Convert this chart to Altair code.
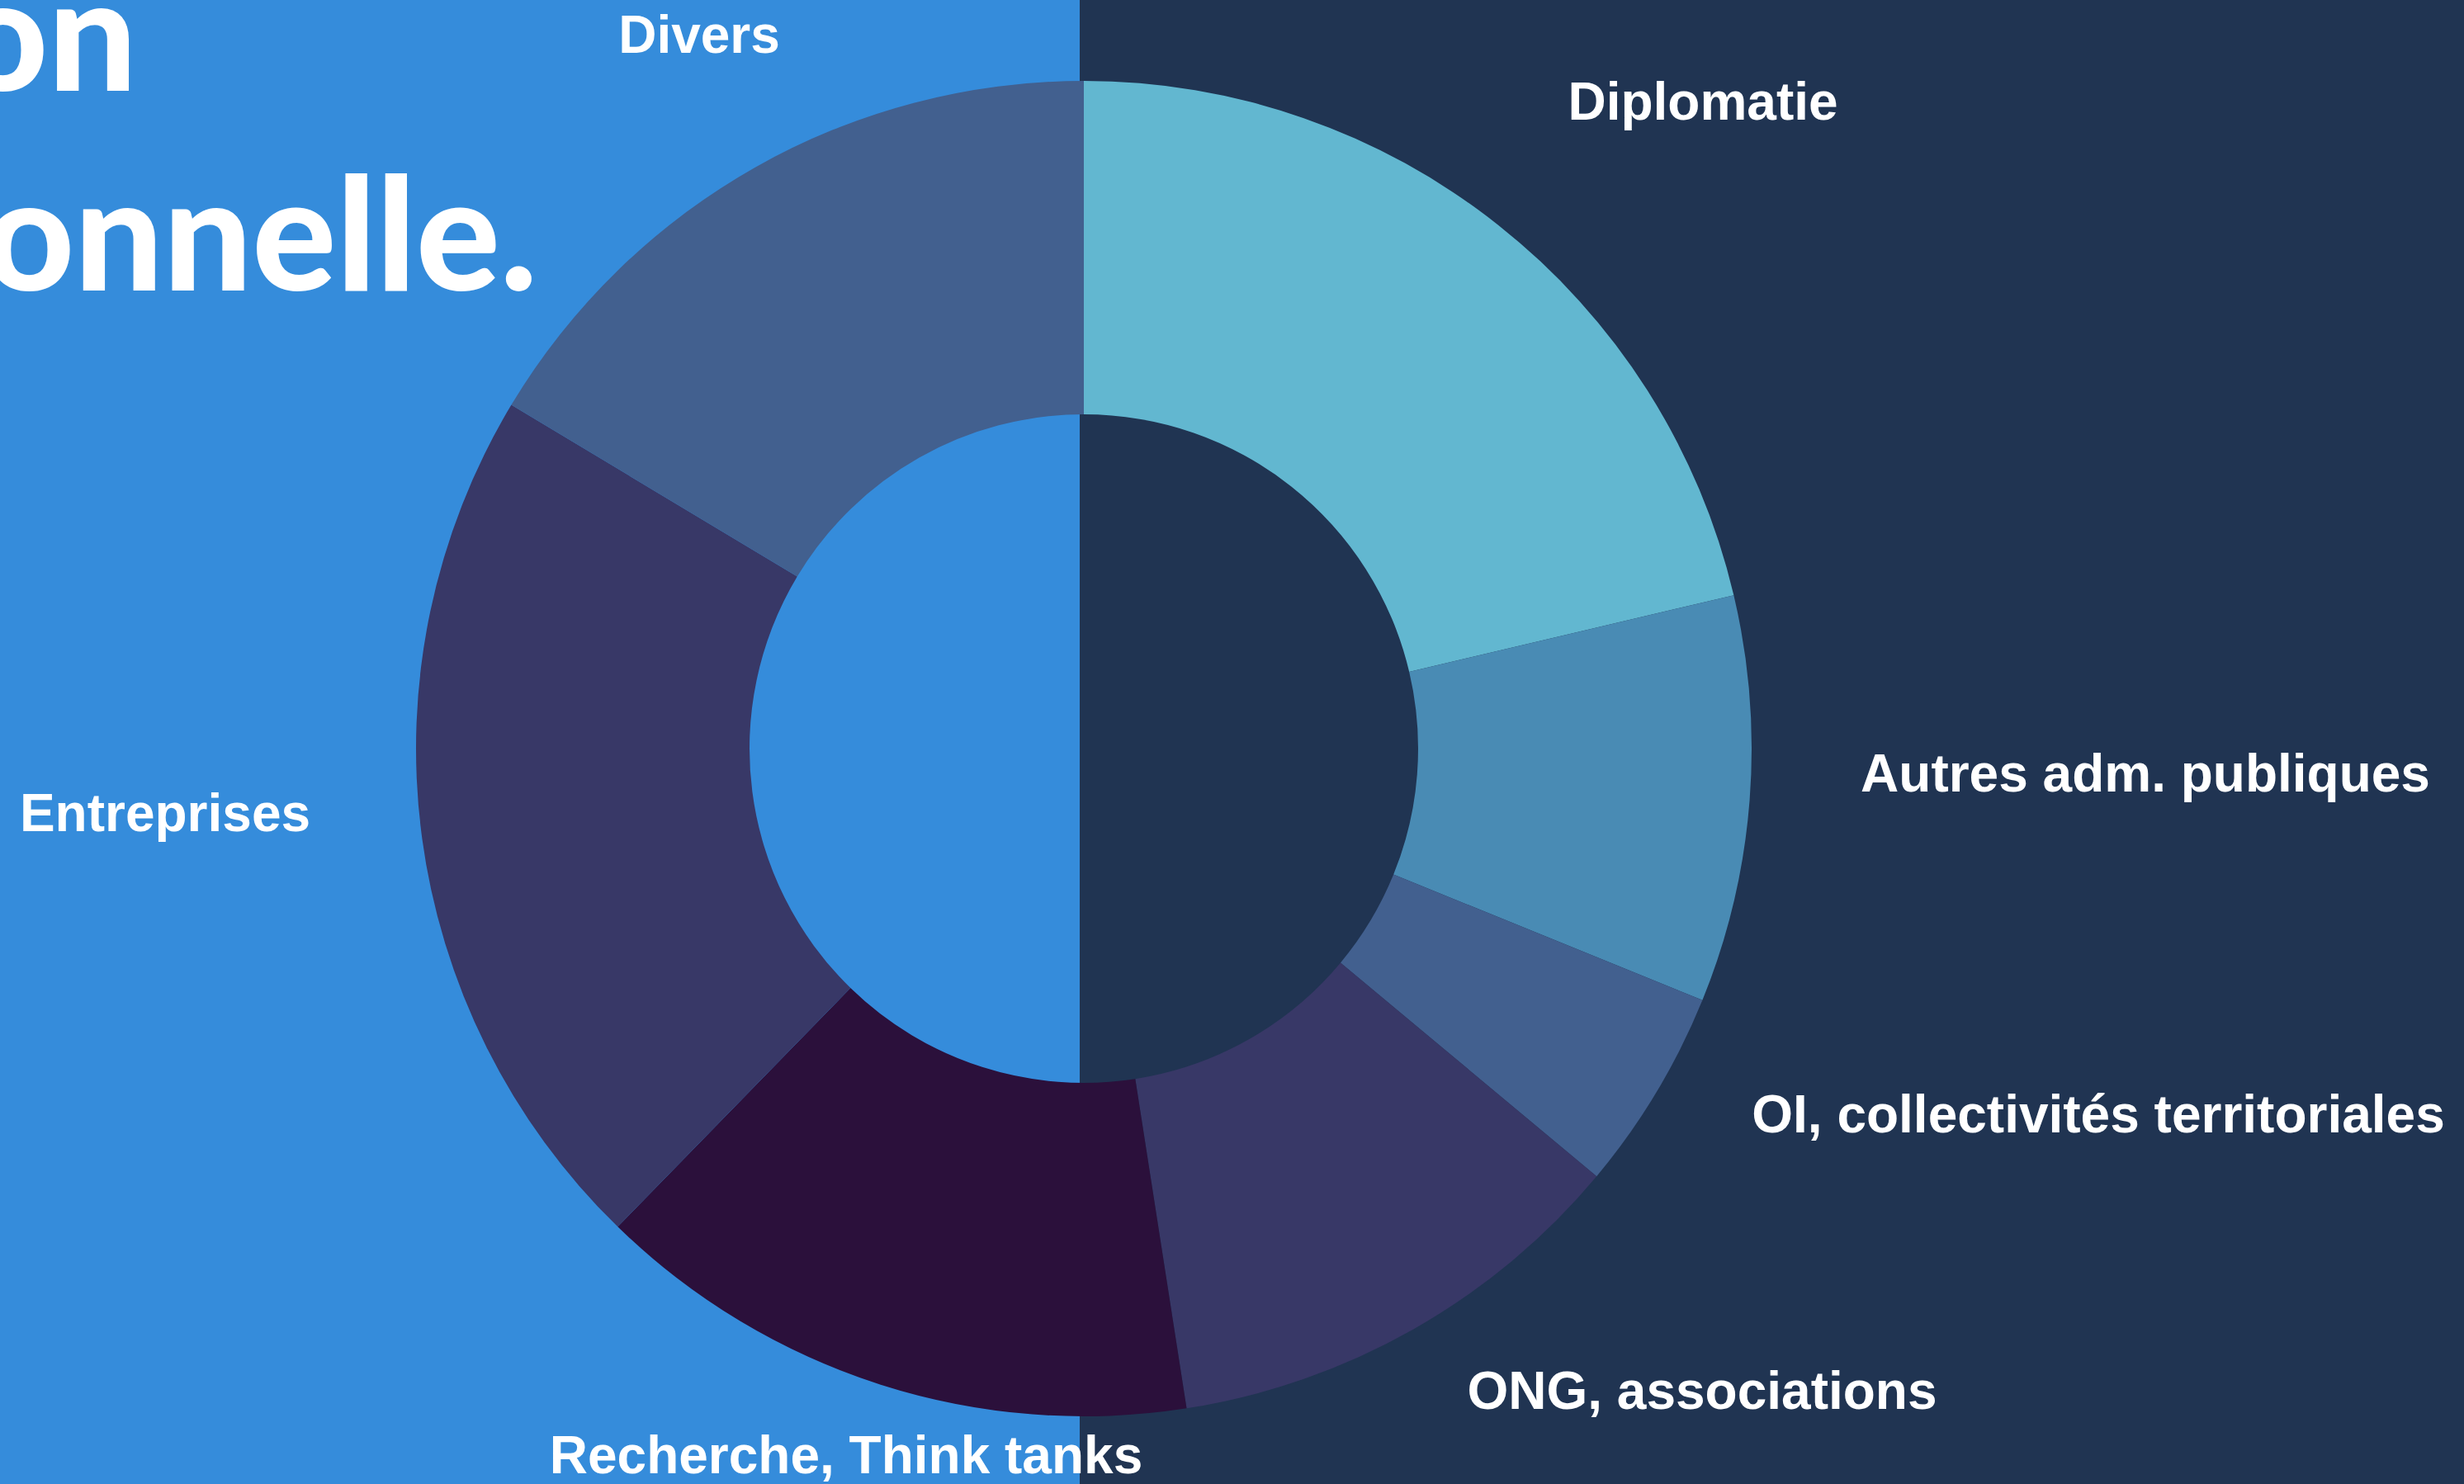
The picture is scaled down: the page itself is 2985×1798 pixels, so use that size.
import altair as alt
import pandas as pd

# --- data ---
categories = ["Diplomatie", "Autres adm. publiques", "OI, collectivités territoriales",
              "ONG, associations", "Recherche, Think tanks", "Entreprises", "Divers"]
values = [13, 6, 3, 7, 9, 13, 10]
colors = ["#62b7d0", "#498bb4", "#42608f", "#383867", "#2b103b", "#383867", "#42608f"]
title_lines = ["Insertion", "professionnelle."]

# --- layout (annotation positions, kept separate from the data) ---
W, H = 2985, 1798
CX, CY = 1313, 907
R_OUT, R_IN = 809, 405
SPLIT_X = 1308
BG_LEFT, BG_RIGHT = "#358cdb", "#203452"
label_pos = {
    "Diplomatie": (2063, 145),
    "Autres adm. publiques": (2599, 959),
    "OI, collectivités territoriales": (2542, 1372),
    "ONG, associations": (2062, 1707),
    "Recherche, Think tanks": (1025, 1785),
    "Entreprises": (200, 1007),
    "Divers": (847, 64),
}
title_pos = [(166, 110), (651, 352)]

df = pd.DataFrame({"cat": categories, "value": values, "idx": list(range(len(categories)))})
one = pd.DataFrame({"a": [0]})

bg_left = alt.Chart(one).mark_rect(color=BG_LEFT).encode(
    x=alt.value(0), x2=alt.value(SPLIT_X), y=alt.value(0), y2=alt.value(H))
bg_right = alt.Chart(one).mark_rect(color=BG_RIGHT).encode(
    x=alt.value(SPLIT_X), x2=alt.value(W), y=alt.value(0), y2=alt.value(H))

arcs = alt.Chart(df).mark_arc(innerRadius=R_IN, outerRadius=R_OUT, stroke=None).encode(
    theta=alt.Theta("value:Q", stack=True),
    order=alt.Order("idx:Q"),
    color=alt.Color("cat:N", scale=alt.Scale(domain=categories, range=colors), legend=None),
    x=alt.value(CX), y=alt.value(CY),
)

layers = [bg_left, bg_right, arcs]

for line, (tx, ty) in zip(title_lines, title_pos):
    layers.append(
        alt.Chart(one).mark_text(
            text=line, align="right", baseline="alphabetic", font="Lato",
            fontWeight=900, fontSize=190, color="white",
        ).encode(x=alt.value(tx), y=alt.value(ty))
    )

for cat in categories:
    lx, ly = label_pos[cat]
    layers.append(
        alt.Chart(one).mark_text(
            text=cat, align="center", baseline="alphabetic", font="Liberation Sans",
            fontWeight="bold", fontSize=64, color="white",
        ).encode(x=alt.value(lx), y=alt.value(ly))
    )

chart = alt.layer(*layers).properties(
    width=W, height=H, padding=0, autosize=alt.AutoSizeParams(type="none"),
    background=BG_RIGHT,
).configure_view(stroke=None)

chart.save("out.html", embed_options={"renderer": "svg", "actions": False})
